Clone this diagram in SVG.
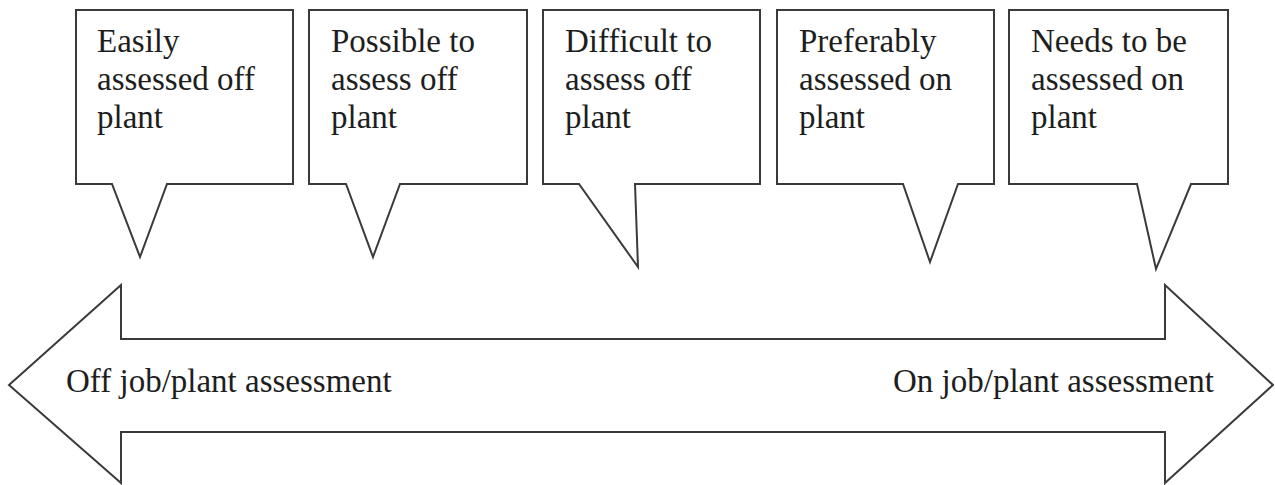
<svg xmlns="http://www.w3.org/2000/svg" width="1275" height="485" viewBox="0 0 1275 485">
<style>
.shape{fill:#fff;stroke:#3a3a3a;stroke-width:2;stroke-linejoin:miter}
.t{font-family:"Liberation Serif","Times New Roman",serif;font-size:33px;fill:#1e1e1e}
</style>
<rect width="1275" height="485" fill="#fff"/>
<g id="connectors">
<path id="double-arrow" class="shape" d="M9,385 L121,285 L121,339 L1165,339 L1165,285 L1273,385 L1165,483 L1165,432 L121,432 L121,483 Z"/>
<text class="t" x="66" y="392">Off job/plant assessment</text>
<text class="t" x="893" y="392">On job/plant assessment</text>
</g>
<g id="callout1">
<path class="shape" d="M76,10 H293 V184 H167 L140,257 L112,184 H76 Z"/>
<text class="t" x="97" y="52">Easily</text>
<text class="t" x="97" y="90">assessed off</text>
<text class="t" x="97" y="128">plant</text>
</g>
<g id="callout2">
<path class="shape" d="M309,10 H527 V184 H400 L373,257 L346,184 H309 Z"/>
<text class="t" x="331" y="52">Possible to</text>
<text class="t" x="331" y="90">assess off</text>
<text class="t" x="331" y="128">plant</text>
</g>
<g id="callout3">
<path class="shape" d="M543,10 H760 V184 H635 L638,267 L579,184 H543 Z"/>
<text class="t" x="565" y="52">Difficult to</text>
<text class="t" x="565" y="90">assess off</text>
<text class="t" x="565" y="128">plant</text>
</g>
<g id="callout4">
<path class="shape" d="M777,10 H994 V184 H958 L930,262 L903,184 H777 Z"/>
<text class="t" x="799" y="52">Preferably</text>
<text class="t" x="799" y="90">assessed on</text>
<text class="t" x="799" y="128">plant</text>
</g>
<g id="callout5">
<path class="shape" d="M1009,10 H1228 V184 H1191 L1156,269 L1137,184 H1009 Z"/>
<text class="t" x="1031" y="52">Needs to be</text>
<text class="t" x="1031" y="90">assessed on</text>
<text class="t" x="1031" y="128">plant</text>
</g>
</svg>
